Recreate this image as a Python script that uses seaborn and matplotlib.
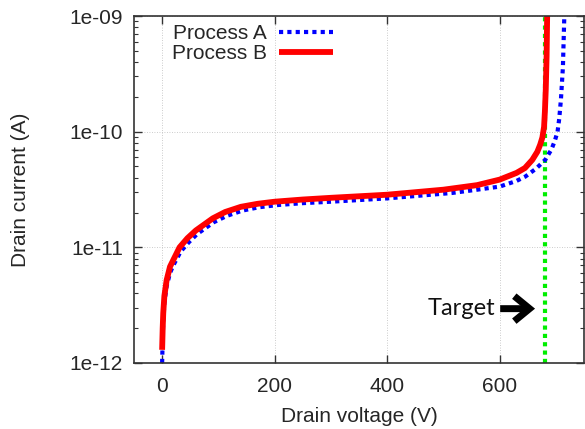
import numpy as np
import pandas as pd
import matplotlib
matplotlib.use("Agg")
import matplotlib.pyplot as plt
import seaborn as sns
from matplotlib.ticker import FixedLocator, LogLocator, NullFormatter, FuncFormatter

# ---- data ----
voltage_a = [0, 1, 2, 4, 8, 14, 20, 33, 47, 62, 92, 115, 143, 172, 205, 250, 300,
             400, 515, 560, 600, 630, 646, 665, 681, 692, 698, 703, 706, 709,
             712.5, 715]
current_a = [1.0e-12, 1.6e-12, 2.3e-12, 3.3e-12, 4.6e-12, 6.0e-12, 7.0e-12, 9.2e-12,
             1.1e-11, 1.3e-11, 1.65e-11, 1.87e-11, 2.08e-11, 2.22e-11, 2.32e-11,
             2.41e-11, 2.48e-11, 2.65e-11, 2.95e-11, 3.15e-11, 3.35e-11, 3.75e-11,
             4.1e-11, 4.8e-11, 5.7e-11, 7.0e-11, 8.3e-11, 1.0e-10, 1.3e-10, 1.9e-10,
             3.6e-10, 1.0e-9]

voltage_b = [0, 1, 2, 4, 8, 14, 20, 31, 45, 60, 90, 112, 140, 170, 200, 250, 300,
             400, 500, 560, 600, 630, 645, 658, 667, 672, 676, 679, 680.5, 682,
             683.5, 684.5]
current_b = [1.3e-12, 2.0e-12, 2.7e-12, 3.8e-12, 5.2e-12, 6.8e-12, 7.8e-12, 1.0e-11,
             1.2e-11, 1.4e-11, 1.78e-11, 2.02e-11, 2.24e-11, 2.38e-11, 2.48e-11,
             2.59e-11, 2.68e-11, 2.85e-11, 3.15e-11, 3.45e-11, 3.85e-11, 4.4e-11,
             4.85e-11, 5.7e-11, 6.7e-11, 7.7e-11, 8.9e-11, 1.1e-10, 1.5e-10, 2.3e-10,
             4.5e-10, 1.0e-9]

series_names = ["Process A", "Process B"]
target_voltage = 680
target_label = "Target"

x_ticks = [0, 200, 400, 600]
y_ticks = [1e-12, 1e-11, 1e-10, 1e-9]
y_tick_labels = ["1e-12", "1e-11", "1e-10", "1e-09"]
x_label = "Drain voltage (V)"
y_label = "Drain current (A)"

# ---- style ----
sns.set_style("ticks")
plt.rcParams["font.family"] = ["Liberation Sans", "DejaVu Sans"]
plt.rcParams["font.size"] = 15

fig = plt.figure(figsize=(5.85, 4.29), dpi=100)
ax = fig.add_axes([134 / 585, 1 - 363 / 429, (584 - 134) / 585, (363 - 16) / 429])

df_a = pd.DataFrame({"V": voltage_a, "I": current_a})
df_b = pd.DataFrame({"V": voltage_b, "I": current_b})

sns.lineplot(data=df_a, x="V", y="I", ax=ax, sort=False, color="#0000ff",
             lw=3, linestyle=(0, (1, 1)), label=series_names[0], estimator=None)
sns.lineplot(data=df_b, x="V", y="I", ax=ax, sort=False, color="#ff0000",
             lw=4.2, label=series_names[1], estimator=None, solid_capstyle="butt",
             solid_joinstyle="round")

ax.axvline(target_voltage, color="#00ee00", lw=3, linestyle=(0, (1, 1)), zorder=1.5)

ax.set_yscale("log")
ax.set_xlim(-50, 750)
ax.set_ylim(1e-12, 1e-9)

ax.xaxis.set_major_locator(FixedLocator(x_ticks))
ax.yaxis.set_major_locator(FixedLocator(y_ticks))
ax.yaxis.set_major_formatter(FuncFormatter(
    lambda v, p: y_tick_labels[y_ticks.index(min(y_ticks, key=lambda t: abs(np.log10(t) - np.log10(v))))]))
ax.yaxis.set_minor_locator(LogLocator(base=10, subs=np.arange(2, 10)))
ax.yaxis.set_minor_formatter(NullFormatter())

ax.tick_params(which="both", direction="in", top=True, right=True, labelsize=15,
               color="#333333")
ax.tick_params(which="major", length=6, width=1)
ax.tick_params(which="minor", length=3, width=0.8)
ax.tick_params(axis="x", pad=10)
ax.tick_params(axis="y", pad=8)

ax.grid(True, which="major", color="#bbbbbb", lw=0.6, linestyle=(0, (1, 2)))
for s in ax.spines.values():
    s.set_color("#333333")
    s.set_linewidth(1.2)

ax.set_xlabel(x_label, fontsize=15, labelpad=8)
ax.set_ylabel(y_label, fontsize=15, labelpad=28)

leg = ax.legend(loc="upper left", frameon=False, markerfirst=False, fontsize=15,
                handlelength=2.6, handletextpad=0.6, labelspacing=0.05,
                borderaxespad=0.0, bbox_to_anchor=(0.065, 1.0))

ax.annotate("", xy=(663, 2.95e-12), xytext=(601, 2.95e-12),
            arrowprops=dict(arrowstyle="->,head_length=0.55,head_width=0.45",
                            color="black", lw=5, mutation_scale=20,
                            shrinkA=0, shrinkB=0, joinstyle="miter",
                            capstyle="butt"))
ax.text(593, 2.95e-12, target_label, ha="right", va="center", fontsize=17,
        family=["Lato", "DejaVu Sans"], color="#111111")

fig.savefig("out.png", dpi=100)
